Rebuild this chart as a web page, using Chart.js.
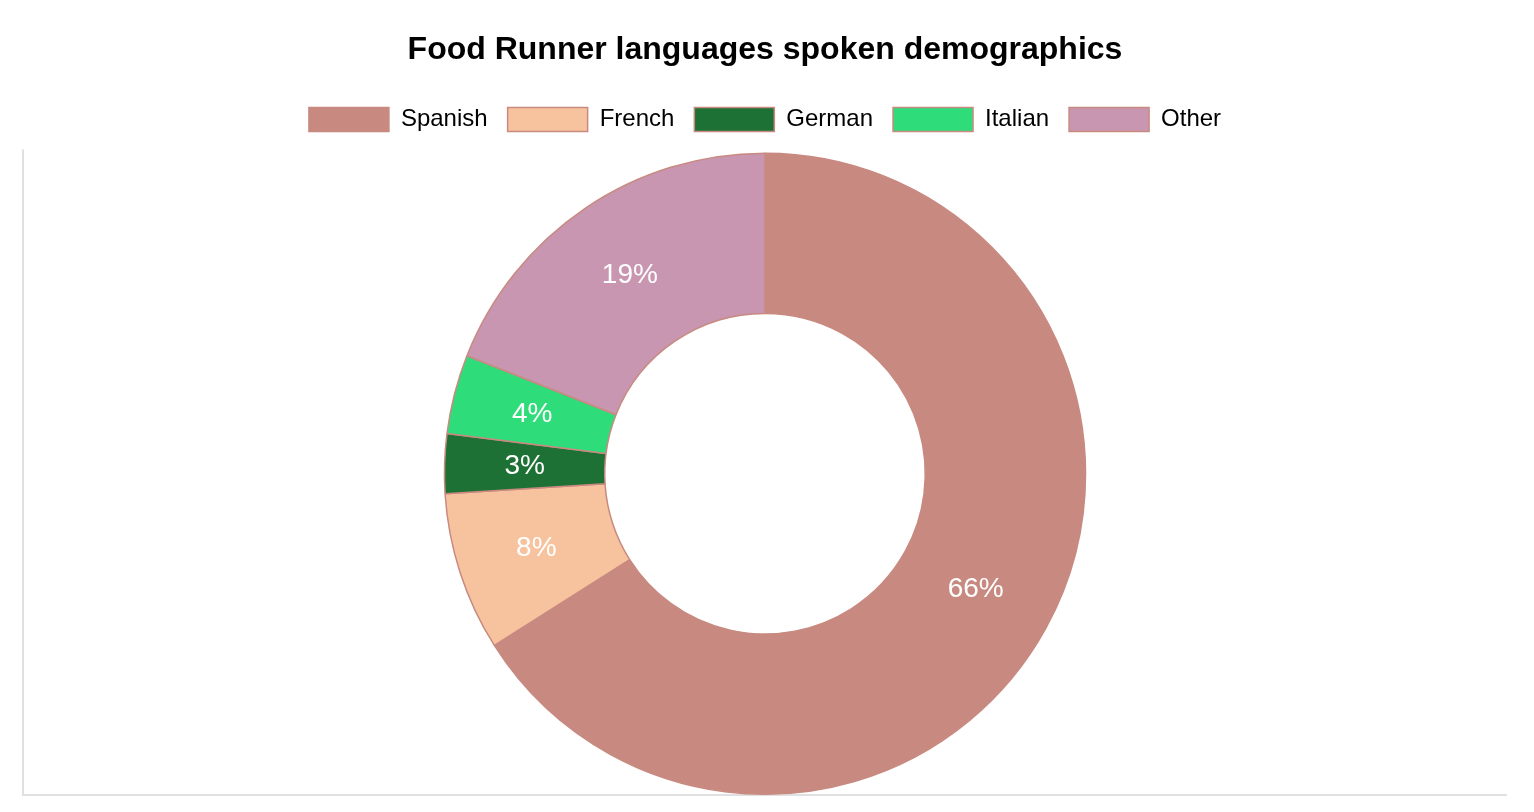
<!DOCTYPE html>
<html>
<head>
<meta charset="utf-8">
<script src="https://cdn.jsdelivr.net/npm/chart.js@4"></script>
<style>
  html, body { margin: 0; padding: 0; background: #fff; }
  #wrap { position: relative; width: 1534px; height: 812px; }
</style>
</head>
<body>
<div id="wrap"><canvas id="chart"></canvas></div>
<script>
const languages = ["Spanish", "French", "German", "Italian", "Other"];
const shares = [66, 8, 3, 4, 19];
const sliceColors = ["#c88a80", "#f7c39e", "#1e7134", "#2edd7a", "#c896b0"];

// draws the percentage in the middle of each slice
const sliceLabels = {
  id: "sliceLabels",
  afterDatasetsDraw(chart) {
    const ctx = chart.ctx;
    const meta = chart.getDatasetMeta(0);
    const data = chart.data.datasets[0].data;
    const total = data.reduce((a, b) => a + b, 0);
    ctx.save();
    ctx.fillStyle = "#fff";
    ctx.font = "28px 'Liberation Sans', Arial, sans-serif";
    ctx.textAlign = "center";
    ctx.textBaseline = "middle";
    meta.data.forEach((arc, i) => {
      const pos = arc.tooltipPosition();
      ctx.fillText(Math.round(data[i] / total * 100) + "%", pos.x, pos.y);
    });
    ctx.restore();
  }
};

// left and bottom edge lines of the chart area
const areaEdges = {
  id: "areaEdges",
  beforeDraw(chart) {
    const { ctx, chartArea } = chart;
    ctx.save();
    ctx.strokeStyle = "#e0e0e0";
    ctx.lineWidth = 2;
    ctx.beginPath();
    ctx.moveTo(chartArea.left, chartArea.top - 3);
    ctx.lineTo(chartArea.left, chartArea.bottom);
    ctx.lineTo(chartArea.right, chartArea.bottom);
    ctx.stroke();
    ctx.restore();
  }
};

// a bit more room under the legend
const legendGap = {
  id: "legendGap",
  beforeInit(chart) {
    const fit = chart.legend.fit;
    chart.legend.fit = function () {
      fit.bind(chart.legend)();
      this.height += 11;
    };
  }
};

Chart.defaults.font.family = "'Liberation Sans', Arial, sans-serif";
Chart.defaults.color = "#000";

new Chart(document.getElementById("chart"), {
  type: "doughnut",
  data: {
    labels: languages,
    datasets: [{
      data: shares,
      backgroundColor: sliceColors,
      borderColor: "#c88a80",
      borderWidth: 1.5
    }]
  },
  options: {
    responsive: true,
    maintainAspectRatio: false,
    animation: false,
    cutout: "50%",
    layout: { padding: { left: 23, right: 27, bottom: 17, top: 0 } },
    plugins: {
      title: {
        display: true,
        text: "Food Runner languages spoken demographics",
        font: { size: 32, weight: "bold" },
        color: "#000",
        padding: { top: 31, bottom: 18 }
      },
      legend: {
        position: "top",
        labels: {
          boxWidth: 80,
          boxHeight: 24,
          font: { size: 24 },
          color: "#000",
          padding: 20
        }
      },
      tooltip: { enabled: false }
    }
  },
  plugins: [sliceLabels, areaEdges, legendGap]
});
</script>
</body>
</html>
